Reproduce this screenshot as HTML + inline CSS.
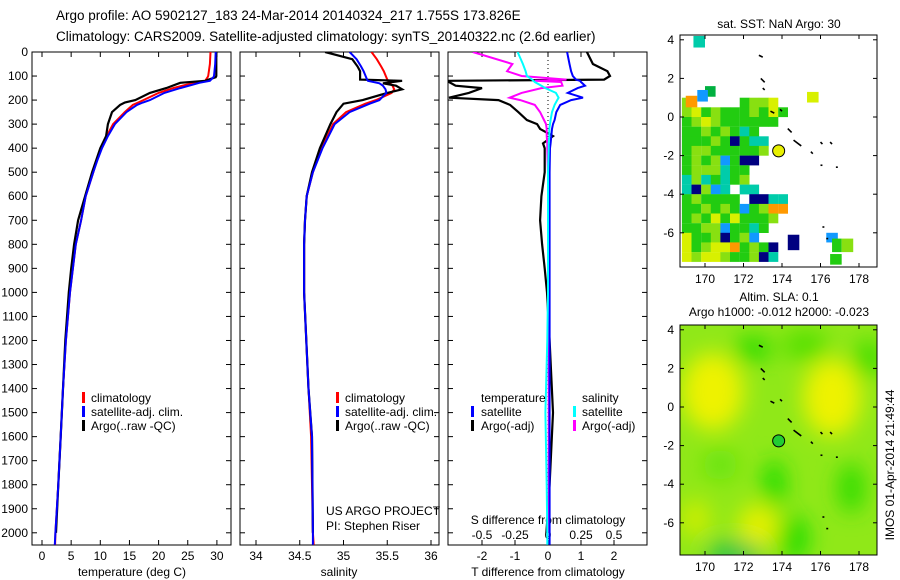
<!DOCTYPE html>
<html><head><meta charset="utf-8"><style>
body{margin:0;background:#fff;}
svg{display:block;font-family:"Liberation Sans",sans-serif;}
text{font-size:12px;fill:#000;}
</style></head><body>
<svg id="fig" width="900" height="580" viewBox="0 0 900 580">
<defs>
<clipPath id="c1"><rect x="32" y="52" width="199" height="493"/></clipPath>
<clipPath id="c2"><rect x="240" y="52" width="199" height="493"/></clipPath>
<clipPath id="c3"><rect x="448" y="52" width="199" height="493"/></clipPath>
<clipPath id="cm1"><rect x="680" y="35" width="197" height="232"/></clipPath>
<clipPath id="cm2"><rect x="680" y="325" width="197" height="230"/></clipPath>
<filter id="blur" x="-50%" y="-50%" width="200%" height="200%"><feGaussianBlur stdDeviation="11"/></filter>
</defs>
<text x="56" y="20" style="font-size:13.5px">Argo profile: AO 5902127_183 24-Mar-2014 20140324_217 1.755S 173.826E</text>
<text x="56" y="41" style="font-size:13.5px">Climatology: CARS2009. Satellite-adjusted climatology: synTS_20140322.nc (2.6d earlier)</text>
<g id="p1"></g>
<g id="p2"></g>
<g id="p3"></g>
<g id="m1"></g>
<g id="m2"></g>
<text x="779" y="28" text-anchor="middle">sat. SST: NaN Argo: 30</text>
<text x="779" y="301" text-anchor="middle">Altim. SLA: 0.1</text>
<text x="779" y="316" text-anchor="middle">Argo h1000: -0.012 h2000: -0.023</text>
<text transform="translate(894,465) rotate(-90)" text-anchor="middle">IMOS 01-Apr-2014 21:49:44</text>
</svg>
<script>
// ---------- data ----------
const depthsT = [0,50,100,105,120,128,150,170,200,210,220,250,300,350,400,450,500,600,700,800,900,1000,1200,1400,1600,1800,2000,2050];
const argoT = [29.9,29.9,29.9,29.8,28,23.7,21.3,18.5,16,14.2,13.4,12,11.3,11,10,9.3,8.6,7.4,6.2,5.5,5,4.6,4.0,3.6,3.2,2.8,2.4,null];
const climT = [28.9,28.8,28.5,28.4,28,26,22.5,20,17.4,16.5,15.6,14.2,12.2,11.1,10.2,9.4,8.8,7.5,6.7,5.8,5.3,4.8,4.1,3.6,3.2,2.8,2.3,2.25];
const satT = [29.8,29.7,29.5,29.4,28.8,27,23.7,21,18.5,17.3,16.3,14.5,12.5,11.3,10.3,9.5,8.8,7.5,6.7,5.8,5.3,4.8,4.1,3.6,3.2,2.8,2.3,2.2];
const depthsS = [0,30,60,80,115,120,130,140,155,170,200,215,250,300,400,500,600,700,800,1000,1400,1600,2000,2050];
const argoS = [34.79,35.1,35.16,35.19,35.19,35.67,35.45,35.6,35.67,35.5,35.22,35.0,34.92,34.85,34.73,34.64,34.58,34.56,34.55,34.55,34.6,34.64,34.65,null];
const climS = [35.32,35.38,35.43,35.46,35.5,35.51,35.53,35.56,35.58,35.55,35.37,35.25,35.03,34.88,34.75,34.65,34.58,34.56,34.55,34.55,34.6,34.63,34.65,34.66];
const satS = [35.07,35.15,35.2,35.23,35.27,35.28,35.41,35.45,35.48,35.49,35.41,35.3,35.07,34.9,34.76,34.65,34.58,34.56,34.55,34.55,34.6,34.64,34.65,34.65];
const depthsD = [0,50,80,100,115,120,125,140,150,170,190,200,220,250,283,300,320,350,380,400,500,600,700,800,900,1000,1200,1500,1800,2000,2050];
const dTargo = [1.18,1.36,1.8,1.88,1.7,-3,-3,-2.8,-2,-2.4,-3,-1.5,-1.15,-0.9,-0.64,-0.33,-0.24,0.15,-0.15,-0.1,-0.1,-0.2,-0.24,-0.18,-0.1,-0.03,0.05,0.15,0.05,-0.05,null];
const dTsat = [0.58,0.65,0.7,0.75,0.85,0.97,1.0,1.12,0.9,0.6,1.06,0.7,0.37,0.25,0.2,0.15,0.12,0.1,0.08,0.06,0.05,0.05,0.05,0.05,0.05,0.05,0.05,0.05,0.05,0.05,0.05];
const dSargo = [-0.57,-0.27,-0.31,-0.2,0.14,-0.1,0.1,0.11,-0.05,-0.2,-0.29,-0.21,-0.1,-0.06,-0.03,-0.015,-0.01,-0.01,-0.005,-0.005,0,0,0,0,0,0,0.005,0.005,0.005,0.005,null];
const dSsat = [-0.23,-0.19,-0.17,-0.16,-0.12,-0.11,-0.1,-0.05,-0.02,0.06,0.08,0.07,0.05,0.03,0.02,0.015,0.01,0.01,0.005,0.005,0,0,0,0,0,0,-0.005,-0.02,-0.01,-0.005,-0.005];
const depthTicks = [0,100,200,300,400,500,600,700,800,900,1000,1100,1200,1300,1400,1500,1600,1700,1800,1900,2000];
const tempTicks = [0,5,10,15,20,25,30];
const salTicks = [34,34.5,35,35.5,36];
const salTickLabels = ["34","34.5","35","35.5","36"];
const dTTicks = [-2,-1,0,1,2];
const dSTicks = [-0.5,-0.25,0,0.25,0.5];
const dSTickLabels = ["-0.5","-0.25","0","0.25","0.5"];
const lonTicks = [170,172,174,176,178];
const latTicks = [4,2,0,-2,-4,-6];
const sstRows = [
"l.....glly.",
"lyglggglgyg",
"glylgggggg.",
"gglglgcg...",
"ggglgngcc..",
"gllgggggl..",
"glglbgnn...",
"glllcgg....",
"clcgcgl....",
"cnlbc.cc...",
"glgggg.nncc",
"gglglgbgloo",
"glgygygggl.",
"ggllbggcg..",
"ygglnglb...",
"yglyyoglgn.",
"ylyylgglnc."];
const sstExtraLon = [169.4,170.0,169.0,169.6,175.3,174.3,176.3,176.6,177.1,176.5];
const sstExtraLat = [4.2,1.6,1.1,1.4,1.3,-6.1,-6.0,-6.3,-6.3,-7.1];
const sstExtraW = [0.6,0.55,0.6,0.55,0.6,0.6,0.6,0.5,0.6,0.6];
const sstExtraH = [0.6,0.55,0.6,0.6,0.55,0.8,0.5,0.7,0.7,0.55];
const sstExtraCls = ["c","d","o","b","y","n","b","g","l","g"];
const argoLon = 173.826, argoLat = -1.755;
const blobLon = [170.4,176.6,172.8,169.5,173.6,174.6,171.5,172.5,177.6,170.8,175.2,178.5];
const blobLat = [0.8,0.5,-6.2,-5.8,-4.0,-6.8,-7.6,3.0,-4.2,-3.0,3.2,2.5];
const blobRx = [1.6,1.5,1.1,0.8,0.6,0.8,1.5,1.0,0.7,0.9,1.2,0.8];
const blobRy = [2.0,2.0,1.2,1.0,1.3,1.2,0.6,0.7,1.3,0.8,0.8,1.0];
const blobCol = ["#eef200","#eef200","#e2f000","#ccee00","#22dd00","#22dd00","#22c050","#33dd00","#33dd00","#66e410","#55e000","#44de00"];

const NS="http://www.w3.org/2000/svg";
function mk(parent,tag,attrs){const e=document.createElementNS(NS,tag);for(const k in attrs)e.setAttribute(k,attrs[k]);parent.appendChild(e);return e;}
const yD=d=>52+d*0.2404;
const xT=t=>42+t*5.83;
const xS=s=>256+(s-34)*87.5;
const xdT=v=>548+v*33;
const xdS=v=>548+v*132;
const lonX=l=>705+(l-170)*19.25;
const latY1=a=>117-a*19.3;
const latY2=a=>407-a*19.3;

function line(g,depths,vals,xf,col,w,name,clip){
  let d="";let pen=false;
  depths.forEach((dp,i)=>{const v=vals[i];if(v===null||v===undefined){pen=false;return;}d+=(pen?"L":"M")+xf(v).toFixed(1)+","+yD(dp).toFixed(1);pen=true;});
  const p=mk(g,"path",{d:d,fill:"none",stroke:col,"stroke-width":w,"clip-path":"url(#"+clip+")"});
  
  
}
function frame(g,x0,name){
  const r=mk(g,"rect",{x:x0,y:52,width:199,height:493,fill:"none",stroke:"#000","stroke-width":1});
  
  
  depthTicks.forEach(d=>{const y=yD(d);mk(g,"line",{x1:x0,x2:x0+5,y1:y,y2:y,stroke:"#000"});mk(g,"line",{x1:x0+194,x2:x0+199,y1:y,y2:y,stroke:"#000"});});
}
function xticks(g,vals,labels,xf,y,name,top){
  vals.forEach((v,i)=>{const x=xf(v);mk(g,"line",{x1:x,x2:x,y1:545,y2:540,stroke:"#000"});if(top)mk(g,"line",{x1:x,x2:x,y1:52,y2:57,stroke:"#000"});
    const t=mk(g,"text",{x:x,y:y,"text-anchor":"middle"});t.textContent=labels[i];
    
    });
}
function txt(g,x,y,s,name,anchor){const t=mk(g,"text",{x:x,y:y});if(anchor)t.setAttribute("text-anchor",anchor);t.textContent=s;
  
  return t;}
function legBar(g,x,y,col,name){const r=mk(g,"rect",{x:x,y:y-10,width:3,height:11,fill:col});
  
  }

const p1=document.getElementById("p1");
frame(p1,32,"temperature-frame");
depthTicks.forEach(d=>txt(p1,28,yD(d)+4,String(d),"depth-tick-label","end"));
xticks(p1,tempTicks,tempTicks.map(String),xT,560,"temperature-tick-label",true);
txt(p1,132,576,"temperature (deg C)","temperature-axis-title","middle");
line(p1,depthsT,climT,xT,"#ff0000",2,"temperature-climatology-line","c1");
line(p1,depthsT,argoT,xT,"#000000",2.2,"temperature-argo-line","c1");
line(p1,depthsT,satT,xT,"#0000ff",2,"temperature-satellite-line","c1");
legBar(p1,82,402,"#ff0000","legend-climatology-swatch");txt(p1,91,402,"climatology","legend-climatology");
legBar(p1,82,416,"#0000ff","legend-satellite-swatch");txt(p1,91,416,"satellite-adj. clim.","legend-satellite");
legBar(p1,82,430,"#000000","legend-argo-swatch");txt(p1,91,430,"Argo(..raw -QC)","legend-argo");

const p2=document.getElementById("p2");
frame(p2,240,"salinity-frame");
xticks(p2,salTicks,salTickLabels,xS,560,"salinity-tick-label",true);
txt(p2,339,576,"salinity","salinity-axis-title","middle");
line(p2,depthsS,climS,xS,"#ff0000",2,"salinity-climatology-line","c2");
line(p2,depthsS,argoS,xS,"#000000",2.2,"salinity-argo-line","c2");
line(p2,depthsS,satS,xS,"#0000ff",2,"salinity-satellite-line","c2");
legBar(p2,336,402,"#ff0000","legend-climatology-swatch");txt(p2,345,402,"climatology","legend-climatology");
legBar(p2,336,416,"#0000ff","legend-satellite-swatch");txt(p2,345,416,"satellite-adj. clim.","legend-satellite");
legBar(p2,336,430,"#000000","legend-argo-swatch");txt(p2,345,430,"Argo(..raw -QC)","legend-argo");
txt(p2,326,515,"US ARGO PROJECT","project-label");
txt(p2,326,530,"PI: Stephen Riser","pi-label");

const p3=document.getElementById("p3");
frame(p3,448,"difference-frame");
xticks(p3,dTTicks,dTTicks.map(String),xdT,560,"t-diff-tick-label",false);
dSTicks.forEach((v,i)=>{const x=xdS(v);mk(p3,"line",{x1:x,x2:x,y1:52,y2:57,stroke:"#000"});txt(p3,x,539,dSTickLabels[i],"s-diff-tick-label","middle");});
txt(p3,548,524,"S difference from climatology","s-diff-axis-title","middle");
txt(p3,548,576,"T difference from climatology","t-diff-axis-title","middle");
const zl=mk(p3,"line",{x1:548,x2:548,y1:52,y2:545,stroke:"#000","stroke-dasharray":"1,3"});

line(p3,depthsD,dTargo,xdT,"#000000",2.2,"t-diff-argo-line","c3");
line(p3,depthsD,dSargo,xdS,"#ff00ff",2,"s-diff-argo-line","c3");
line(p3,depthsD,dTsat,xdT,"#0000ff",2,"t-diff-satellite-line","c3");
line(p3,depthsD,dSsat,xdS,"#00ffff",2,"s-diff-satellite-line","c3");
txt(p3,481,402,"temperature","legend-temperature-heading");
legBar(p3,471,416,"#0000ff","legend-t-satellite-swatch");txt(p3,481,416,"satellite","legend-t-satellite");
legBar(p3,471,430,"#000000","legend-t-argo-swatch");txt(p3,481,430,"Argo(-adj)","legend-t-argo");
txt(p3,582,402,"salinity","legend-salinity-heading");
legBar(p3,573,416,"#00ffff","legend-s-satellite-swatch");txt(p3,582,416,"satellite","legend-s-satellite");
legBar(p3,573,430,"#ff00ff","legend-s-argo-swatch");txt(p3,582,430,"Argo(-adj)","legend-s-argo");

const pal={g:"#22cc11",l:"#88e011",y:"#d8f000",c:"#00ccaa",b:"#1199ff",n:"#000080",o:"#ff9900",d:"#00b040"};
function mapAxes(g,y0,h,latY,name){
  const r=mk(g,"rect",{x:680,y:y0,width:197,height:h,fill:"none",stroke:"#000"});
  
  
  lonTicks.forEach(l=>{const x=lonX(l);mk(g,"line",{x1:x,x2:x,y1:y0+h,y2:y0+h-4,stroke:"#000"});mk(g,"line",{x1:x,x2:x,y1:y0,y2:y0+4,stroke:"#000"});txt(g,x,y0+h+16,String(l),"lon-tick-label","middle");});
  latTicks.forEach(a=>{const y=latY(a);mk(g,"line",{x1:680,x2:684,y1:y,y2:y,stroke:"#000"});mk(g,"line",{x1:877,x2:873,y1:y,y2:y,stroke:"#000"});txt(g,674,y+4,String(a),"lat-tick-label","end");});
}
function islands(g,latY){
  const isl=[[172.8,3.2,173.0,3.1],[172.9,2.0,173.1,1.8],[173.0,1.5,173.1,1.4],[173.4,0.3,173.6,0.2],[173.9,0.4,174.0,0.3],[174.3,-0.6,174.5,-0.8],[174.6,-1.2,175.0,-1.5],[175.5,-1.8,175.6,-1.9],[176.0,-1.3,176.1,-1.4],[176.5,-1.3,176.6,-1.4],[176.0,-2.5,176.1,-2.5],[176.8,-2.6,176.9,-2.6],[176.1,-5.7,176.2,-5.7],[176.3,-6.3,176.4,-6.3]];
  isl.forEach(s=>{const p=mk(g,"line",{x1:lonX(s[0]),y1:latY(s[1]),x2:lonX(s[2]),y2:latY(s[3]),stroke:"#000","stroke-width":1.6});
    });
}
const m1=document.getElementById("m1");
const g1=mk(m1,"g",{"clip-path":"url(#cm1)"});
sstRows.forEach((row,ri)=>{for(let ci=0;ci<row.length;ci++){const k=row[ci];if(k===".")continue;
  const lon=168.8+ci*0.5, lat=1.0-ri*0.5;
  const r=mk(g1,"rect",{x:lonX(lon).toFixed(1),y:latY1(lat).toFixed(1),width:9.8,height:9.8,fill:pal[k]});
  }});
sstExtraLon.forEach((lon,i)=>{const r=mk(g1,"rect",{x:lonX(lon),y:latY1(sstExtraLat[i]),width:sstExtraW[i]*19.25,height:sstExtraH[i]*19.3,fill:pal[sstExtraCls[i]]});
  });
islands(g1,latY1);
const a1=mk(m1,"circle",{cx:lonX(argoLon),cy:latY1(argoLat),r:6,fill:"#e8f000",stroke:"#000"});

mapAxes(m1,35,232,latY1,"sst-map-frame");

const m2=document.getElementById("m2");
const g2=mk(m2,"g",{"clip-path":"url(#cm2)"});
mk(g2,"rect",{x:680,y:325,width:197,height:230,fill:"#90e818"});
const bg=mk(g2,"g",{filter:"url(#blur)"});
blobLon.forEach((l,i)=>{const e=mk(bg,"ellipse",{cx:lonX(l),cy:latY2(blobLat[i]),rx:blobRx[i]*19.25,ry:blobRy[i]*19.3,fill:blobCol[i]});
  });
islands(g2,latY2);
const a2=mk(m2,"circle",{cx:lonX(argoLon),cy:latY2(argoLat),r:6,fill:"#22cc33",stroke:"#000"});

mapAxes(m2,325,230,latY2,"sla-map-frame");
</script>
</body></html>
